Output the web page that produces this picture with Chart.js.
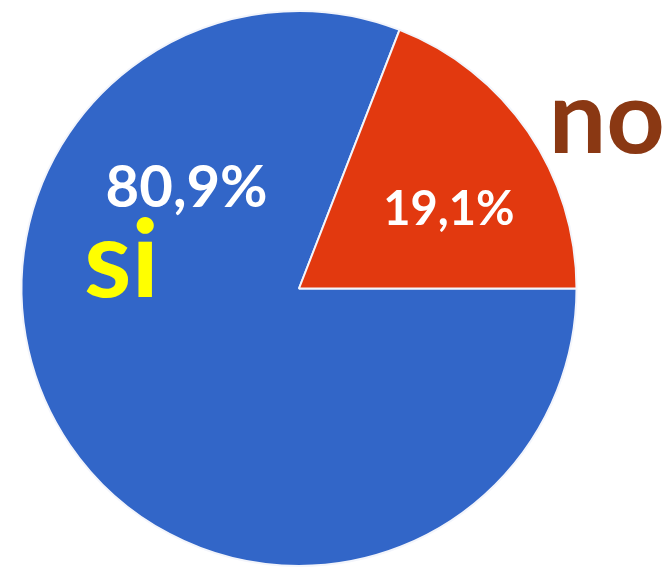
<!DOCTYPE html>
<html>
<head>
<meta charset="utf-8">
<script src="https://cdn.jsdelivr.net/npm/chart.js@4/dist/chart.umd.min.js"></script>
<style>
    html, body { margin: 0; padding: 0; background: #ffffff; }
    #wrap { width: 672px; height: 567px; position: relative; }
</style>
</head>
<body>
<div id="wrap"><canvas id="myChart"></canvas></div>
<script>
const labels = ['si', 'no'];
const values = [80.9, 19.1];
const sliceColors = ['#3266c8', '#e2390f'];

// text placed relative to each arc, as fractions of the radius
const percentStyle = [
    { dx: -0.405, dy: -0.295, size: 58, color: '#ffffff' },
    { dx: 0.54, dy: -0.23, size: 47, color: '#ffffff' }
];
const nameStyle = [
    { dx: -0.64, dy: 0.03, size: 108, color: '#ffff00', align: 'center' },
    { dx: 0.9, dy: -0.49, size: 102, color: '#8a3813', align: 'left' }
];

const chartCanvas = document.getElementById('myChart').getContext('2d');

const sliceLabels = {
    id: 'sliceLabels',
    afterDatasetsDraw(chart) {
        const ctx = chart.ctx;
        const arcs = chart.getDatasetMeta(0).data;
        ctx.save();
        ctx.textBaseline = 'alphabetic';
        arcs.forEach((arc, i) => {
            const { x, y, outerRadius } = arc.getProps(['x', 'y', 'outerRadius'], true);
            const p = percentStyle[i];
            ctx.font = `bold ${p.size}px Lato`;
            ctx.fillStyle = p.color;
            ctx.textAlign = 'center';
            ctx.fillText(values[i].toFixed(1).replace('.', ',') + '%', x + p.dx * outerRadius, y + p.dy * outerRadius);

            const n = nameStyle[i];
            ctx.font = `bold ${n.size}px Lato`;
            ctx.fillStyle = n.color;
            ctx.textAlign = n.align;
            ctx.fillText(labels[i], x + n.dx * outerRadius, y + n.dy * outerRadius);
        });
        ctx.restore();
    }
};

new Chart(chartCanvas, {
    type: 'pie',
    data: {
        labels,
        datasets: [{
            data: values,
            backgroundColor: sliceColors,
            borderColor: '#f3f5fb',
            borderWidth: 2
        }]
    },
    options: {
        responsive: true,
        maintainAspectRatio: false,
        animation: false,
        rotation: 90,
        layout: { padding: { left: 20, top: 10, right: 94, bottom: 0 } },
        plugins: {
            legend: { display: false },
            tooltip: { enabled: false }
        }
    },
    plugins: [sliceLabels]
});
</script>
</body>
</html>
